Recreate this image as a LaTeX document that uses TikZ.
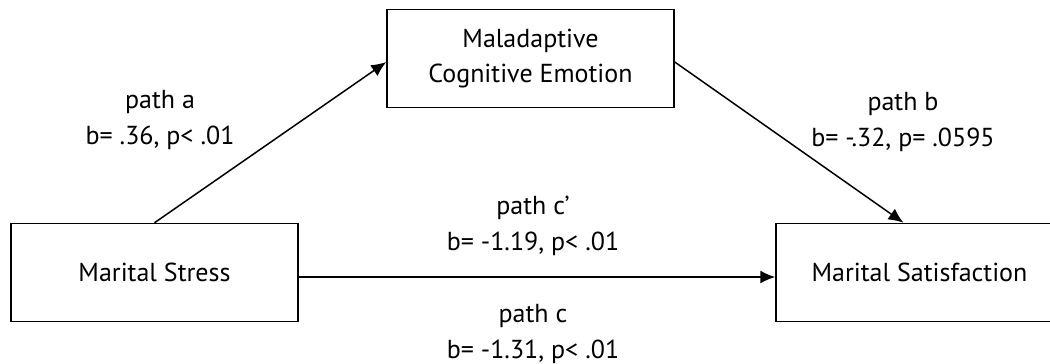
\documentclass[tikz,border=0pt]{standalone}
\usepackage{fontspec}
\setmainfont{PT Sans}
\usetikzlibrary
  {
    positioning,
    arrows.meta,
  }
\tikzset
  {
    >={Latex[length=15pt,width=13pt]},
    varbox/.style=
      {
        draw,
        line width=1.5pt,
        rectangle,
        minimum width=287pt,
        minimum height=98pt,
        align=center,
        font=\fontsize{26}{35}\selectfont,
      },
    path label/.style=
      {
        align=center,
        font=\fontsize{26}{36}\selectfont,
      },
    effect/.style={->, line width=1.5pt},
  }
\begin{document}
\begin{tikzpicture}[x=1pt, y=-1pt]
  \useasboundingbox (0,0) rectangle (1050,364);

  \node[varbox] (stress) at (154.5,272.5) {Marital Stress};
  \node[varbox] (mediator) at (530.5,58.5) {Maladaptive\\Cognitive Emotion};
  \node[varbox] (satisf) at (919.5,272.5) {Marital Satisfaction};

  \node[path label] (label a) at (160,120) {path a\\b= .36, p< .01};
  \node[path label] (label b) at (903,122) {path b\\b= -.32, p= .0595};
  \node[path label] (label cp) at (533,226) {path c’\\b= -1.19, p< .01};
  \node[path label] (label c) at (533,334) {path c\\b= -1.31, p< .01};

  \draw[effect] (stress.north) -- ([yshift=-3.5pt]mediator.west);
  \draw[effect] ([yshift=-3.5pt]mediator.east) -- ([xshift=-16pt]satisf.north);
  \draw[effect] ([yshift=-4.5pt]stress.east) -- ([yshift=-4.5pt]satisf.west);
\end{tikzpicture}
\end{document}
